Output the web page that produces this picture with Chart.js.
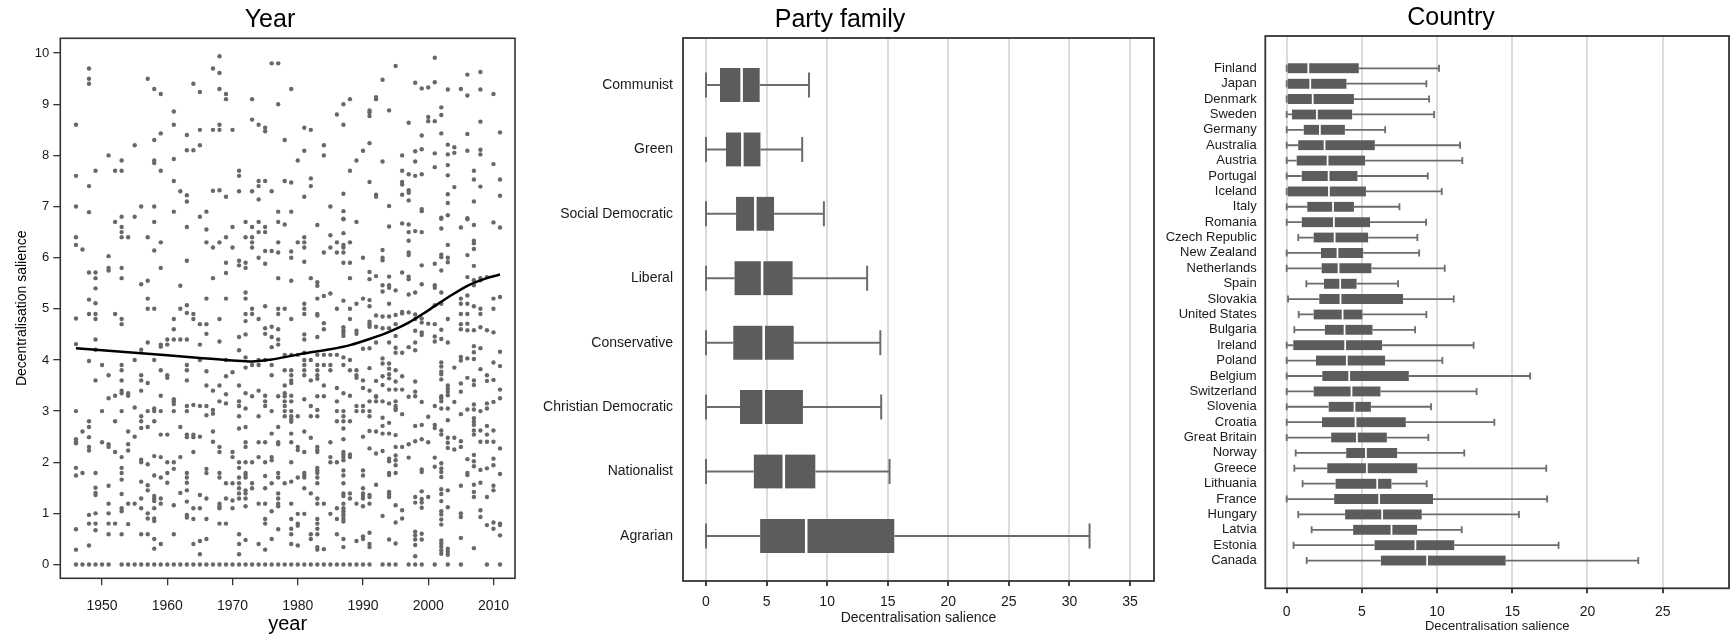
<!DOCTYPE html>
<html>
<head>
<meta charset="utf-8">
<script src="https://cdn.jsdelivr.net/npm/chart.js@4/dist/chart.umd.min.js"></script>
<style>
  html, body { margin: 0; padding: 0; background: #fff; width: 1732px; height: 636px; overflow: hidden; }
  canvas { position: absolute; top: 0; }
  #yearChart { left: 0; }
  #partyChart { left: 520px; }
  #countryChart { left: 1120px; }
</style>
</head>
<body>
<canvas id="yearChart" width="540" height="636"></canvas>
<canvas id="partyChart" width="660" height="636"></canvas>
<canvas id="countryChart" width="622" height="636"></canvas>
<script>
// ---------- Panel 1: salience by election year ----------
const electionYears = [
  1946, 1947, 1948, 1949, 1950, 1951, 1952, 1953, 1954, 1955, 1956, 1957, 1958, 1959, 1960,
  1961, 1962, 1963, 1964, 1965, 1966, 1967, 1968, 1969, 1970, 1971, 1972, 1973, 1974, 1975,
  1976, 1977, 1978, 1979, 1980, 1981, 1982, 1983, 1984, 1985, 1986, 1987, 1988, 1989, 1990,
  1991, 1992, 1993, 1994, 1995, 1996, 1997, 1998, 1999, 2000, 2001, 2002, 2003, 2004, 2005,
  2006, 2007, 2008, 2009, 2010, 2011
];
const salienceByYear = [
  [8.60,7.60,7.00,6.40,6.25,4.81,4.31,3.00,2.45,2.40,2.37,1.89,1.74,0.69,0.29,0],
  [6.16,2.60,1.79,0],
  [9.70,9.50,9.40,7.40,6.89,5.71,5.18,4.90,3.98,2.80,2.69,2.49,2.30,2.23,0.97,0.80,0.37,0],
  [7.70,5.71,5.60,5.40,5.11,4.90,4.80,4.40,4.20,3.60,1.79,1.50,1.40,1.36,1.00,0.80,0.67,0],
  [3.90,3.00,2.39,0],
  [8.00,6.03,5.80,5.75,3.70,3.25,2.35,2.30,1.54,1.19,1.00,0.80,0.59,0],
  [7.70,6.70,4.90,3.30,2.80,2.20,0.80],
  [7.90,7.70,6.80,6.60,6.50,6.40,5.80,5.60,4.80,4.70,3.90,3.80,3.60,3.40,3.35,3.00,2.10,1.89,1.79,1.66,1.38,1.10,1.04,0.59,0],
  [6.40,3.35,3.30,2.60,2.35,2.23,1.19,0.79,0],
  [8.20,6.80,4.00,3.07,2.50,1.19,0],
  [7.00,5.48,4.20,3.70,3.60,3.40,2.90,2.80,2.67,2.05,2.00,1.62,1.29,1.10,0.59,0],
  [9.50,6.40,5.55,5.20,5.00,4.34,3.55,3.00,2.69,1.96,1.55,1.45,1.00,0.90,0.59,0],
  [9.30,8.30,7.90,7.85,7.00,6.70,6.14,5.00,4.00,3.05,3.00,2.80,2.12,1.74,1.34,1.29,1.24,1.10,0.90,0.85,0.50,0.31,0],
  [9.20,8.43,7.70,6.30,5.80,4.30,4.26,3.80,3.30,3.00,2.54,2.10,1.70,1.29,1.19,0.40,0],
  [4.40,4.30,3.70,3.65,2.54,2.00,1.79,1.60,0],
  [8.86,8.60,7.93,7.50,6.90,4.80,4.60,4.40,3.23,3.19,3.14,3.00,2.00,1.87,1.16,0.59,0],
  [7.30,5.45,5.00,4.40,2.69,2.10,1.40,0],
  [8.40,8.10,7.22,7.10,6.60,5.94,5.07,4.92,4.40,3.90,3.80,3.60,3.10,3.00,2.54,2.49,1.79,1.70,1.60,1.45,1.23,0.97,0.92,0],
  [9.40,8.10,4.90,4.80,3.12,2.54,2.49,2.20,1.10,0.89,0.40,0],
  [9.24,8.50,8.20,6.80,4.70,4.30,4.00,3.10,2.50,1.36,1.10,0.46,0.20,0],
  [6.90,6.55,6.30,5.20,4.70,4.51,3.78,3.50,3.10,2.92,1.87,1.79,1.29,0.89,0.50,0],
  [9.70,8.50,7.31,6.20,5.60,3.40,3.02,2.95,2.60,2.40,0],
  [9.94,9.61,9.30,8.60,8.50,7.32,6.30,4.80,4.36,3.50,3.19,2.30,2.20,1.79,1.70,1.19,1.14,1.10,0.80,0],
  [9.20,9.10,7.19,6.40,5.90,5.70,5.20,4.00,3.68,3.33,3.15,1.59,1.29,0.80,0],
  [8.50,6.60,6.20,3.76,2.20,2.10,1.59,1.25,1.10,0],
  [7.70,7.60,7.30,5.94,5.85,4.45,4.19,3.50,3.19,3.10,2.90,2.66,2.00,1.89,1.70,1.59,1.49,1.39,1.29,0.59,0.40,0.20,0],
  [6.70,6.40,5.90,5.80,5.32,5.20,4.90,4.76,4.50,4.05,3.85,3.35,3.05,2.69,2.39,2.30,2.00,1.79,1.75,1.70,1.45,1.39,1.29,1.14,0.48,0],
  [9.10,8.70,7.30,6.60,6.40,6.30,6.20,5.00,4.90,3.90,3.29,2.00,1.59,1.49,0],
  [8.60,7.50,7.40,7.14,6.70,6.50,6.00,4.80,4.00,3.90,3.40,2.90,2.39,2.10,1.19,0.40,0],
  [8.54,8.47,7.50,6.60,6.50,6.13,5.88,5.05,4.62,4.51,4.00,3.30,3.19,3.10,2.39,2.00,1.73,1.49,1.19,0.89,0.80,0.29,0],
  [9.80,7.30,6.13,4.65,4.45,4.25,3.90,3.70,3.00,2.56,2.10,2.04,1.59,1.04,0.50,0],
  [9.80,9.00,6.90,6.70,6.30,6.10,5.60,5.00,4.90,4.60,4.40,4.30,3.29,2.69,2.39,2.35,1.79,1.70,1.39,1.29,1.19,1.14,0.69,0],
  [8.30,7.50,6.65,5.00,4.10,3.80,3.50,3.35,3.29,3.19,3.10,3.00,2.90,1.59,0],
  [9.30,7.47,6.90,6.12,6.00,5.55,4.80,4.10,3.80,3.70,3.60,3.55,3.30,3.19,3.00,2.90,2.84,2.79,2.56,2.39,2.00,1.62,1.19,0.89,0.70,0.59,0.40,0],
  [7.90,6.30,4.10,2.90,2.30,2.24,1.70,0.99,0.80,0.76,0.37,0],
  [8.54,8.09,7.19,6.40,6.30,6.20,5.92,5.10,5.00,4.90,4.50,4.40,4.14,4.00,3.90,3.80,3.70,3.23,2.60,2.20,1.79,1.74,1.70,1.49,0.99,0],
  [8.50,7.55,7.40,5.60,4.00,3.60,3.10,2.90,2.48,1.39,0.59,0.50,0],
  [6.64,5.52,5.45,5.20,4.90,4.87,4.45,4.10,3.90,3.80,3.70,3.63,3.29,3.02,2.90,2.30,2.24,2.20,1.89,1.84,1.79,1.70,1.59,1.29,1.19,0.89,0.80,0.70,0.59,0.34,0.29,0],
  [8.20,8.00,6.10,5.25,4.72,4.60,4.10,3.90,3.50,3.29,1.19,0.30,0],
  [7.00,6.44,6.20,5.30,4.10,3.90,3.80,2.39,2.10,2.00,0.99,0],
  [8.80,6.30,6.10,5.00,4.10,3.45,3.19,3.00,2.80,2.00,1.10,0.89,0.59,0],
  [9.00,8.60,7.25,6.91,6.76,6.75,6.48,6.25,6.20,6.10,5.90,5.16,4.64,4.58,4.53,4.47,4.05,3.90,3.35,3.00,2.90,2.80,2.66,2.45,2.20,2.15,2.10,2.04,1.84,1.74,1.59,1.39,1.34,1.19,1.10,1.04,0.99,0.95,0.89,0.84,0.50,0.34,0],
  [9.10,7.70,6.30,5.90,5.60,5.00,4.80,4.00,3.80,3.30,2.80,2.15,2.10,1.39,1.29,0],
  [7.90,6.70,5.10,4.57,4.51,3.80,3.70,3.65,3.10,3.00,1.19,0.46,0],
  [8.09,6.00,5.20,4.22,3.60,3.45,3.10,3.00,2.50,1.84,1.74,1.49,1.39,1.34,1.29,1.14,0.55,0.50,0],
  [8.88,8.84,8.77,8.24,7.48,5.72,5.58,5.17,5.05,4.75,4.70,4.65,4.23,3.84,3.40,3.19,3.00,2.90,2.61,2.27,1.36,1.32,1.19,0.62,0.40,0.34,0],
  [9.14,9.10,7.23,7.19,5.64,4.87,4.65,4.34,3.59,3.29,3.28,3.19,2.60,2.17,1.56],
  [9.48,7.88,6.15,6.00,5.95,5.46,5.34,4.85,4.62,4.03,3.93,3.68,3.51,3.19,2.87,2.71,2.56,2.22,0.95,0],
  [8.88,7.01,6.61,5.63,5.46,5.41,5.10,4.85,4.62,4.34,3.93,3.83,3.72,3.64,3.42,3.15,2.77,2.56,2.07,2.02,1.79,1.75,1.42,1.37,1.32,0.49,0],
  [9.75,5.36,4.88,4.70,4.47,4.24,4.14,3.80,3.58,3.42,3.19,3.10,3.05,3.02,2.53,2.30,2.13,2.04,1.94,1.79,1.16,0.82,0.41,0],
  [8.00,7.70,7.48,7.43,7.23,6.67,5.71,4.94,4.91,4.14,3.68,3.42,2.94,2.30,1.06,0.90],
  [8.64,7.63,7.32,7.27,7.12,6.65,6.50,6.33,6.10,6.05,5.63,5.58,5.28,4.93,4.25,3.28,2.35,2.09,0],
  [9.42,8.08,7.88,7.60,6.52,5.32,4.89,4.80,4.57,4.34,4.19,3.58,3.38,3.29,2.71,2.41,1.32,1.21,0.64,0.57,0.49,0.38,0.16,0],
  [9.31,8.39,8.12,7.63,6.95,6.91,6.50,5.85,5.48,4.81,4.73,4.54,4.49,3.18,2.73,2.45,1.86,1.81,1.43,1.28,1.21,1.11,0.60,0.49,0],
  [9.33,8.75,8.67,4.71,2.89,2.39,1.32],
  [9.91,9.43,8.67,8.04,7.77,5.88,5.46,5.41,5.07,4.70,4.46,4.36,3.10,2.73,2.67,2.09,1.91,0],
  [8.94,8.79,8.43,6.78,6.76,6.57,6.06,6.01,5.75,5.32,5.10,4.59,4.41,3.95,3.87,3.77,3.72,3.62,3.29,3.25,3.19,3.05,2.62,2.54,1.98,1.88,1.81,1.71,1.47,1.38,1.24,1.04,0.98,0.88,0.78,0.47,0.41,0.35,0.28,0.21],
  [9.29,8.21,8.02,7.81,7.61,7.24,7.07,6.83,6.25,6.00,5.91,4.80,4.34,3.50,3.44,3.38,3.31,3.05,2.82,2.48,2.38,2.28,1.45,1.12,0.31,0.25,0.19,0],
  [8.16,8.05,7.38,3.85,3.18,2.48,2.25],
  [9.30,6.59,5.20,5.10,4.90,4.70,4.60,4.06,3.99,3.54,3.38,2.94,2.41,2.30,1.54,1.00,0.93,0.52,0],
  [9.58,9.17,8.42,8.09,6.77,6.75,6.05,5.62,5.26,5.10,4.90,4.71,4.58,4.03,3.65,3.03,2.06,1.79,1.75],
  [7.70,7.53,7.10,6.64,6.33,6.28,6.17,5.84,5.56,5.46,5.05,4.58,4.27,4.15,4.02,3.60,3.51,3.13,3.03,2.86,2.79,2.73,2.62,2.54,2.14,2.02,1.92,1.56,1.42,1.32,0.32],
  [9.63,9.29,8.66,8.11,8.02,7.39,5.60,5.56,5.00,4.90,4.64,4.23,3.82,3.00,2.62,2.40,1.85,1.60,1.06,0.93],
  [5.62,4.58,3.70,3.59,3.15,3.05,2.71,2.54,2.40,1.88,1.32,0.77,0],
  [9.20,7.83,6.69,5.20,5.00,4.54,3.95,3.61,3.18,2.62,2.40,2.07,1.94,1.54,1.45,0.82,0.70],
  [8.45,7.53,7.21,6.59,5.23,4.16,3.88,3.42,3.25,2.27,1.77,0.80,0.77,0.57,0]
];
// smoothed trend through the yearly scatter
const trendYears    = [1946, 1950, 1955, 1960, 1965, 1970, 1973, 1976, 1979, 1982, 1985, 1988, 1991, 1994, 1997, 2000, 2003, 2006, 2009, 2011];
const trendSalience = [4.23, 4.19, 4.14, 4.09, 4.04, 3.99, 3.97, 4.01, 4.08, 4.15, 4.21, 4.29, 4.41, 4.55, 4.73, 4.97, 5.22, 5.45, 5.60, 5.67];
const yearTicks = [1950, 1960, 1970, 1980, 1990, 2000, 2010];
const salienceTicks = [0, 1, 2, 3, 4, 5, 6, 7, 8, 9, 10];

// ---------- Panel 2: party family box plots ----------
const partyFamilies = ['Communist', 'Green', 'Social Democratic', 'Liberal', 'Conservative', 'Christian Democratic', 'Nationalist', 'Agrarian'];
const partyLow    = [0, 0, 0, 0, 0, 0, 0, 0];
const partyQ1     = [1.16, 1.65, 2.48, 2.35, 2.25, 2.81, 3.94, 4.47];
const partyMedian = [2.94, 3.00, 4.07, 4.63, 4.76, 4.76, 6.42, 8.27];
const partyQ3     = [4.43, 4.50, 5.62, 7.15, 7.24, 8.00, 9.03, 15.55];
const partyHigh   = [8.50, 7.94, 9.73, 13.30, 14.39, 14.46, 15.15, 31.66];
const partyTicks  = [0, 5, 10, 15, 20, 25, 30, 35];

// ---------- Panel 3: country box plots ----------
const countries = ['Finland', 'Japan', 'Denmark', 'Sweden', 'Germany', 'Australia', 'Austria', 'Portugal', 'Iceland', 'Italy',
  'Romania', 'Czech Republic', 'New Zealand', 'Netherlands', 'Spain', 'Slovakia', 'United States', 'Bulgaria', 'Ireland', 'Poland',
  'Belgium', 'Switzerland', 'Slovenia', 'Croatia', 'Great Britain', 'Norway', 'Greece', 'Lithuania', 'France', 'Hungary',
  'Latvia', 'Estonia', 'Canada'];
const countryLow    = [0, 0, 0, 0, 0, 0, 0, 0, 0, 0, 0, 0.77, 0, 0, 1.31, 0.09, 0.80, 0.51, 0, 0, 0, 0, 0, 0, 0, 0.60, 0.51, 1.06, 0, 0.77, 1.66, 0.46, 1.33];
const countryQ1     = [0, 0, 0, 0.35, 1.13, 0.77, 0.66, 1.00, 0, 1.37, 1.00, 1.79, 2.28, 2.32, 2.48, 2.17, 1.79, 2.54, 0.44, 1.95, 2.37, 1.79, 2.79, 2.35, 2.96, 3.96, 2.70, 3.25, 3.16, 3.89, 4.42, 5.84, 6.26];
const countryMedian = [1.44, 1.57, 1.73, 2.01, 2.21, 2.52, 2.72, 2.79, 2.81, 3.08, 3.14, 3.19, 3.38, 3.45, 3.56, 3.58, 3.72, 3.85, 3.89, 4.00, 4.16, 4.31, 4.51, 4.58, 4.67, 5.27, 5.33, 6.02, 6.15, 6.35, 6.97, 8.56, 9.34];
const countryQ3     = [4.78, 3.98, 4.47, 4.36, 3.87, 5.86, 5.22, 4.71, 5.27, 4.47, 5.53, 5.42, 5.09, 5.64, 4.65, 7.74, 5.04, 5.71, 6.35, 6.55, 8.12, 6.24, 5.60, 7.92, 6.66, 7.35, 8.69, 6.97, 9.73, 8.98, 8.67, 11.15, 14.56];
const countryHigh   = [10.13, 9.29, 9.47, 9.80, 6.55, 11.53, 11.68, 9.38, 10.31, 7.50, 9.27, 8.69, 8.81, 10.51, 7.41, 11.11, 9.29, 8.54, 12.43, 10.35, 16.19, 12.63, 9.60, 13.81, 9.42, 11.81, 17.26, 9.31, 17.32, 15.44, 11.64, 18.08, 23.38];
const countryTicks  = [0, 5, 10, 15, 20, 25];

// ---------- shared helpers ----------
Chart.defaults.font.family = "'Liberation Sans', Arial, Helvetica, sans-serif";
Chart.defaults.color = '#1a1a1a';

const setTicks = values => scale => { scale.ticks = values.map(v => ({ value: v })); };
const setWidth = px => scale => { scale.width = px; };
const setHeight = px => scale => { scale.height = px; };

// plot frame drawn around the chart area
const framePlugin = {
  id: 'frame',
  afterDatasetsDraw(chart, args, opts) {
    const { ctx, chartArea: { left, top, right, bottom } } = chart;
    ctx.save();
    ctx.strokeStyle = opts.color || '#333';
    ctx.lineWidth = opts.width || 1.5;
    ctx.strokeRect(left, top, right - left, bottom - top);
    ctx.restore();
  }
};

// whiskers and end caps for horizontal box plots, placed through the chart scales
function whiskerPlugin(low, q1, q3, high, capPx, color, width) {
  return {
    id: 'whiskers',
    beforeDatasetsDraw(chart) {
      const { ctx, scales: { x, y } } = chart;
      ctx.save();
      ctx.strokeStyle = color;
      ctx.lineWidth = width;
      low.forEach((lo, i) => {
        const py = y.getPixelForValue(i + 1);
        const xl = x.getPixelForValue(lo);
        const xa = x.getPixelForValue(q1[i]);
        const xb = x.getPixelForValue(q3[i]);
        const xh = x.getPixelForValue(high[i]);
        ctx.beginPath();
        ctx.moveTo(xl, py); ctx.lineTo(xa, py);
        ctx.moveTo(xb, py); ctx.lineTo(xh, py);
        ctx.moveTo(xl, py - capPx / 2); ctx.lineTo(xl, py + capPx / 2);
        ctx.moveTo(xh, py - capPx / 2); ctx.lineTo(xh, py + capPx / 2);
        ctx.stroke();
      });
      ctx.restore();
    }
  };
}

// two floating bars per row: lower quartile to median, median to upper quartile
function boxDatasets(q1, med, q3, thickness, gap) {
  const common = {
    backgroundColor: '#5c5c5c',
    borderColor: '#ffffff',
    borderSkipped: false,
    barThickness: thickness,
    grouped: false
  };
  return [
    Object.assign({ data: q1.map((v, i) => ({ y: i + 1, x: [v, med[i]] })),
      borderWidth: { left: 0, right: gap, top: 0, bottom: 0 } }, common),
    Object.assign({ data: q3.map((v, i) => ({ y: i + 1, x: [med[i], v] })),
      borderWidth: { left: gap, right: 0, top: 0, bottom: 0 } }, common)
  ];
}

// ---------- Panel 1 ----------
const yearPoints = [];
electionYears.forEach((yr, i) => salienceByYear[i].forEach(v => yearPoints.push({ x: yr, y: v })));

new Chart(document.getElementById('yearChart'), {
  type: 'scatter',
  data: {
    datasets: [
      {
        type: 'line',
        data: trendYears.map((yr, i) => ({ x: yr, y: trendSalience[i] })),
        borderColor: '#000', borderWidth: 2.5, pointRadius: 0,
        cubicInterpolationMode: 'monotone', fill: false, order: 0
      },
      {
        data: yearPoints,
        pointRadius: 2.2, pointBackgroundColor: '#686868', pointBorderWidth: 0, order: 1
      }
    ]
  },
  options: {
    responsive: false, animation: false,
    layout: { autoPadding: false, padding: { left: 25, right: 25, top: 0, bottom: 0 } },
    plugins: {
      legend: { display: false }, tooltip: { enabled: false },
      title: { display: true, text: 'Year', color: '#000', font: { size: 25, weight: 'normal' }, padding: { top: 5, bottom: 3.3 } },
      frame: { color: '#333', width: 1.6 }
    },
    scales: {
      x: {
        type: 'linear', min: 1943.6, max: 2013.3,
        afterBuildTicks: setTicks(yearTicks), afterFit: setHeight(57.7),
        grid: { drawOnChartArea: false, drawTicks: true, tickLength: 7, tickColor: '#333', lineWidth: 1.3 },
        border: { display: false },
        ticks: { padding: 12, font: { size: 14 }, color: '#1a1a1a', callback: v => String(v) },
        title: { display: true, text: 'year', color: '#000', font: { size: 20 }, padding: { top: 0, bottom: 0 } }
      },
      y: {
        type: 'linear', min: -0.27, max: 10.29,
        afterBuildTicks: setTicks(salienceTicks), afterFit: setWidth(35.3),
        grid: { drawOnChartArea: false, drawTicks: true, tickLength: 7, tickColor: '#333', lineWidth: 1.3 },
        border: { display: false },
        ticks: { padding: 4, font: { size: 13 }, color: '#1a1a1a', callback: v => String(v) },
        title: { display: true, text: 'Decentralisation salience', color: '#000', font: { size: 14 }, padding: { top: -11.4, bottom: 0 } }
      }
    }
  },
  plugins: [framePlugin]
});

// ---------- Panel 2 ----------
new Chart(document.getElementById('partyChart'), {
  type: 'bar',
  data: { datasets: boxDatasets(partyQ1, partyMedian, partyQ3, 34, 1.6) },
  options: {
    indexAxis: 'y', responsive: false, animation: false,
    layout: { autoPadding: false, padding: { left: 6, right: 26, top: 0, bottom: 0 } },
    plugins: {
      legend: { display: false }, tooltip: { enabled: false },
      title: { display: true, text: 'Party family', color: '#000', font: { size: 25, weight: 'normal' }, padding: { top: 5, bottom: 3 } },
      frame: { color: '#333', width: 1.8 }
    },
    scales: {
      x: {
        type: 'linear', min: -1.9, max: 36.98,
        afterBuildTicks: setTicks(partyTicks), afterFit: setHeight(55),
        grid: { color: '#dcdcdc', lineWidth: 2, drawTicks: true, tickLength: 5, tickColor: '#444' },
        border: { display: false },
        ticks: { padding: 8, font: { size: 14 }, color: '#1a1a1a', callback: v => String(v) },
        title: { display: true, text: 'Decentralisation salience', color: '#1a1a1a', font: { size: 14 }, padding: { top: 0, bottom: 9.6 } }
      },
      y: {
        type: 'linear', reverse: true, min: 0.27, max: 8.70, offset: false,
        afterBuildTicks: setTicks(partyFamilies.map((_, i) => i + 1)), afterFit: setWidth(157),
        grid: { display: false, drawTicks: false },
        border: { display: false },
        ticks: { padding: 10, font: { size: 14 }, color: '#1a1a1a', autoSkip: false, callback: v => partyFamilies[v - 1] }
      }
    }
  },
  plugins: [whiskerPlugin(partyLow, partyQ1, partyQ3, partyHigh, 25, '#6c6c6c', 2), framePlugin]
});

// ---------- Panel 3 ----------
new Chart(document.getElementById('countryChart'), {
  type: 'bar',
  data: { datasets: boxDatasets(countryQ1, countryMedian, countryQ3, 10, 1.2) },
  options: {
    indexAxis: 'y', responsive: false, animation: false,
    layout: { autoPadding: false, padding: { left: 40, right: 0, top: 0, bottom: 0 } },
    plugins: {
      legend: { display: false }, tooltip: { enabled: false },
      title: { display: true, text: 'Country', color: '#000', font: { size: 25, weight: 'normal' }, padding: { top: 3, bottom: 3 } },
      frame: { color: '#333', width: 1.8 }
    },
    scales: {
      x: {
        type: 'linear', min: -1.42, max: 29.41,
        afterBuildTicks: setTicks(countryTicks), afterFit: setHeight(47.7),
        grid: { color: '#dcdcdc', lineWidth: 2, drawTicks: true, tickLength: 5, tickColor: '#444' },
        border: { display: false },
        ticks: { padding: 10, font: { size: 14 }, color: '#1a1a1a', callback: v => String(v) },
        title: { display: true, text: 'Decentralisation salience', color: '#1a1a1a', font: { size: 13 }, padding: { top: 0, bottom: 2.2 } }
      },
      y: {
        type: 'linear', reverse: true, min: -1.1, max: 34.8, offset: false,
        afterBuildTicks: setTicks(countries.map((_, i) => i + 1)), afterFit: setWidth(105.3),
        grid: { display: false, drawTicks: false },
        border: { display: false },
        ticks: { padding: 8.6, font: { size: 13 }, color: '#1a1a1a', autoSkip: false, callback: v => countries[v - 1] }
      },
      // empty right-hand margin that balances the title over the panel
      yMargin: {
        type: 'linear', position: 'right', axis: 'y', display: true,
        afterFit: setWidth(13),
        grid: { display: false, drawTicks: false },
        border: { display: false },
        ticks: { display: false }
      }
    }
  },
  plugins: [whiskerPlugin(countryLow, countryQ1, countryQ3, countryHigh, 7, '#6c6c6c', 1.8), framePlugin]
});
</script>
</body>
</html>
